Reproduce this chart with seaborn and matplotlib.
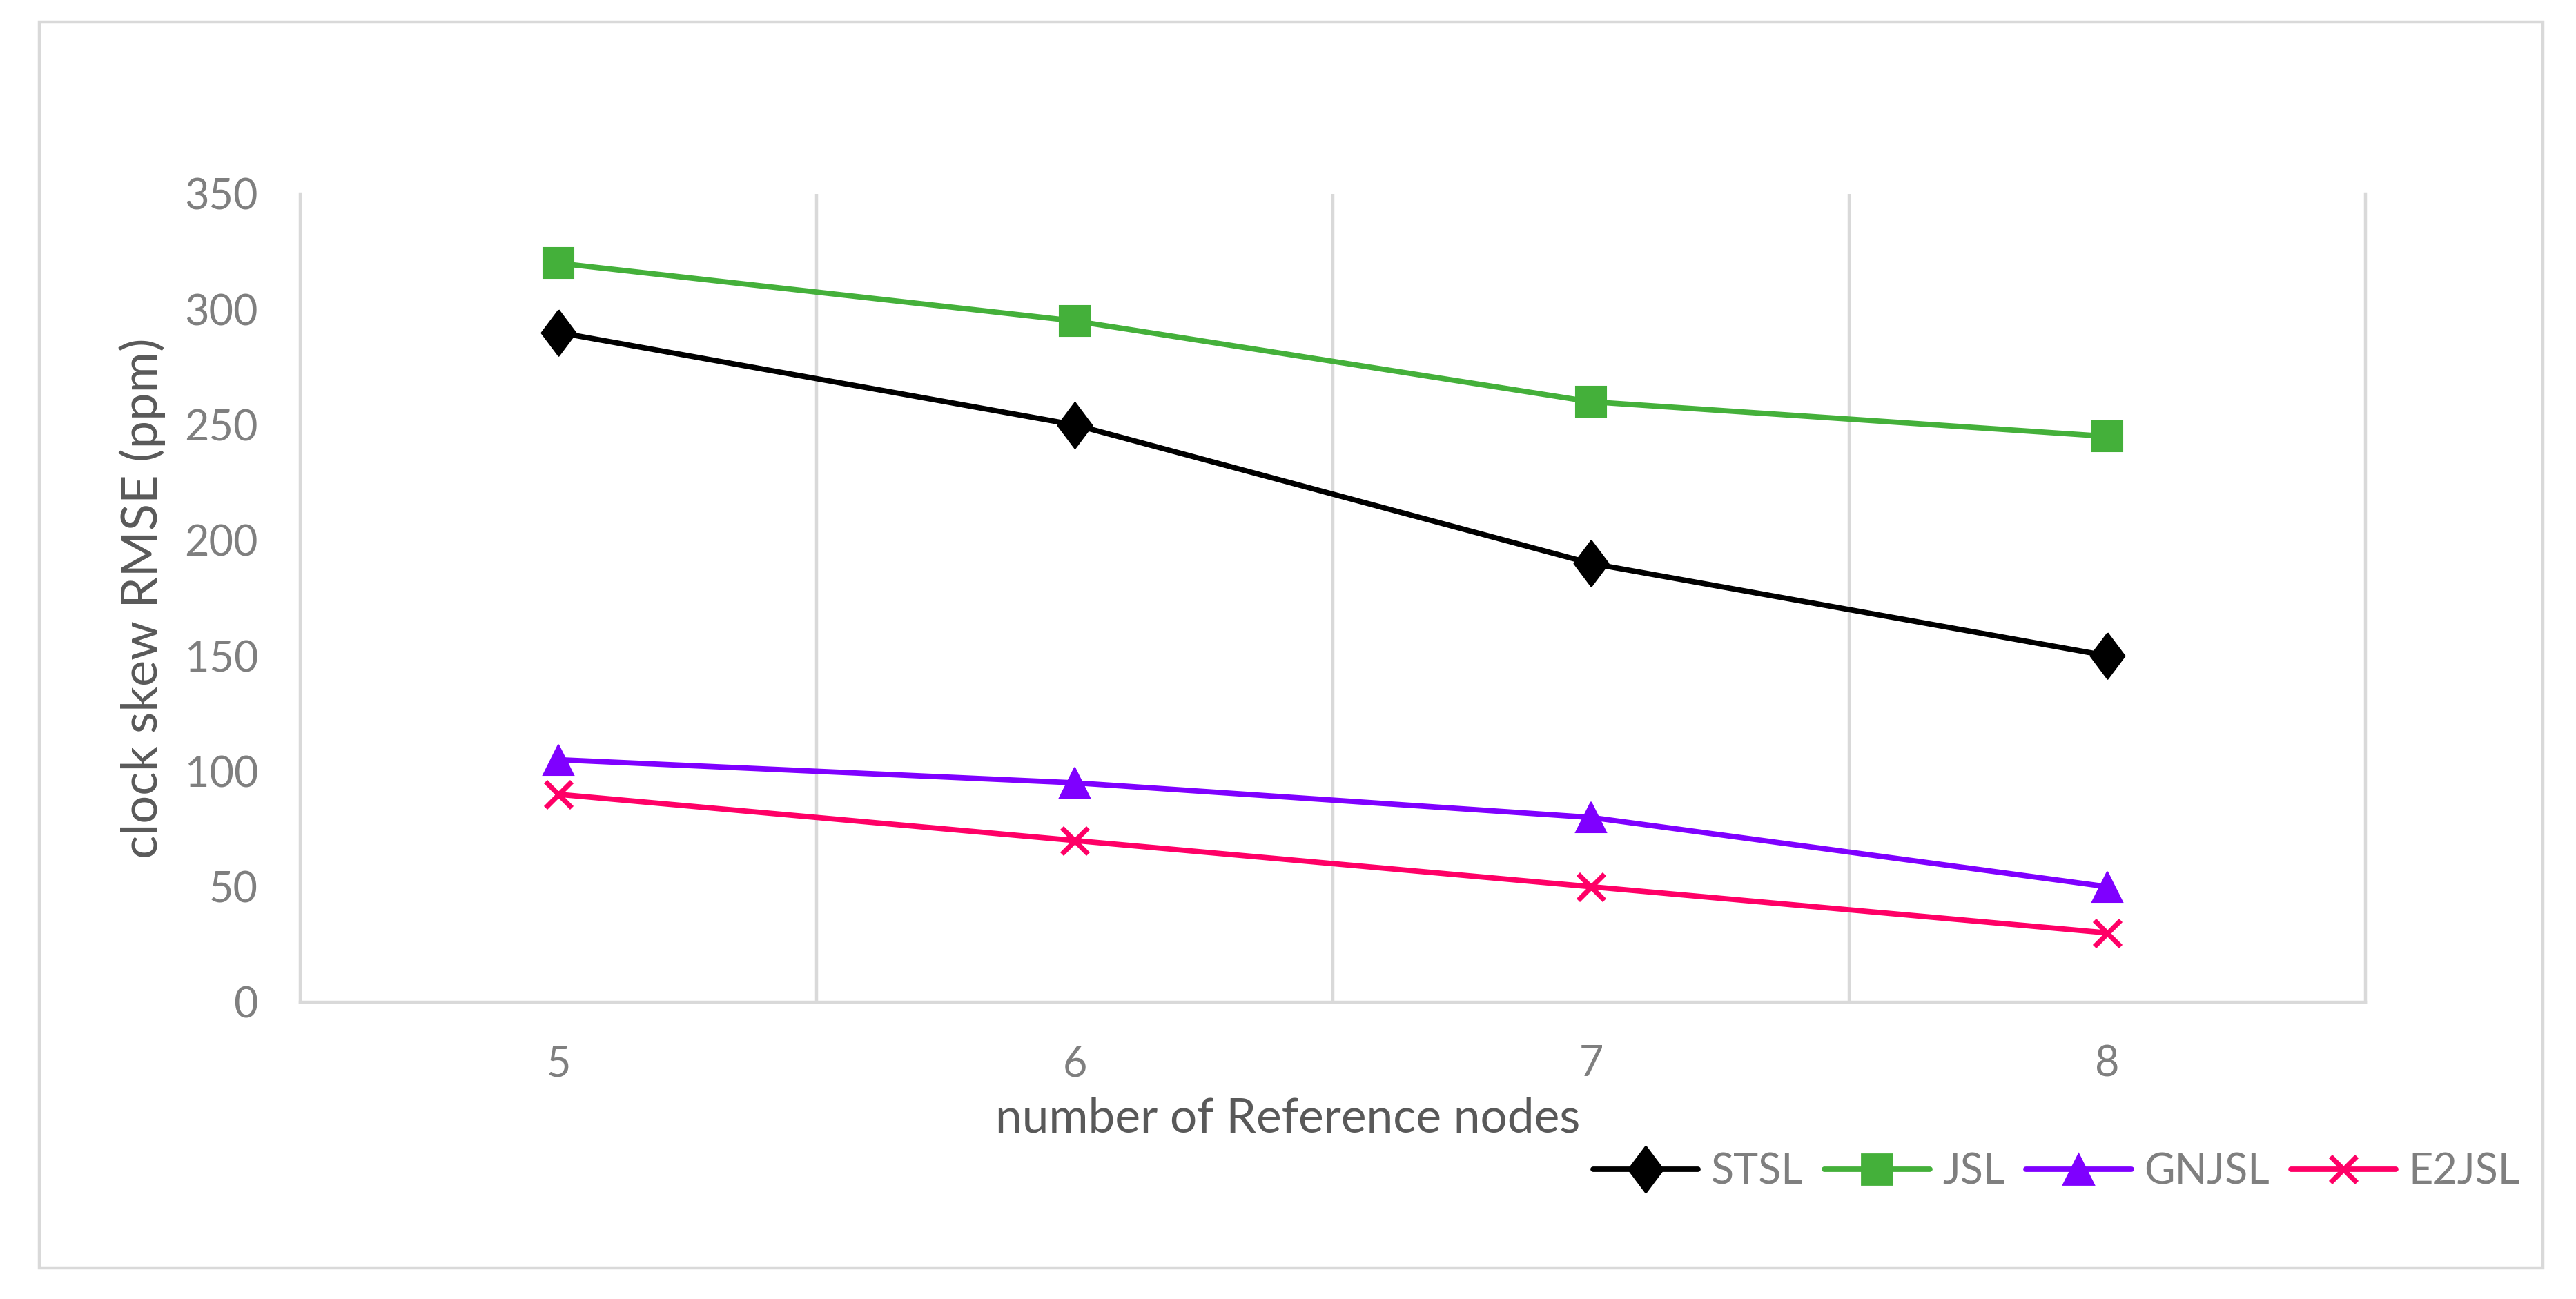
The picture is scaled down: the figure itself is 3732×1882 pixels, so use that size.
import numpy as np
import pandas as pd
import matplotlib
matplotlib.use("Agg")
import matplotlib.pyplot as plt
import seaborn as sns
from matplotlib.patches import Rectangle
from matplotlib.lines import Line2D

nodes = [5, 6, 7, 8]
stsl = [290, 250, 190, 150]
jsl = [320, 295, 260, 245]
gnjsl = [105, 95, 80, 50]
e2jsl = [90, 70, 50, 30]
series_names = ["STSL", "JSL", "GNJSL", "E2JSL"]
y_ticks = [0, 50, 100, 150, 200, 250, 300, 350]

sns.set_theme(style="white")
plt.rcParams['font.family'] = ['Lato', 'DejaVu Sans']

df = pd.DataFrame({
    "nodes": nodes * 4,
    "value": stsl + jsl + gnjsl + e2jsl,
    "series": sum([[n] * len(nodes) for n in series_names], []),
})

diamond = [(0, 1), (0.75, 0), (0, -1), (-0.75, 0), (0, 1)]
colors = {"STSL": "#000000", "JSL": "#44B03A", "GNJSL": "#7F00FF", "E2JSL": "#FF0066"}
markers = {"STSL": diamond, "JSL": "s", "GNJSL": "^", "E2JSL": "x"}
msizes = {"STSL": 24, "JSL": 16, "GNJSL": 16, "E2JSL": 14}

fig = plt.figure(figsize=(18.66, 9.41), dpi=200)
ax = fig.add_axes([0.1166, 0.2285, 0.8017, 0.6222])

for name in series_names:
    sub = df[df["series"] == name]
    kw = dict(marker=markers[name], markersize=msizes[name], color=colors[name],
              linewidth=2.8, label=name, markeredgecolor=colors[name], legend=False)
    if name == "E2JSL":
        kw["markeredgewidth"] = 2.6
    sns.lineplot(data=sub, x="nodes", y="value", ax=ax, **kw)

ax.set_xlim(4.5, 8.5)
ax.set_ylim(0, 350)
ax.set_yticks(y_ticks)
ax.set_xticks(nodes)
ax.set_xticklabels([str(n) for n in nodes])

for xv in [5.5, 6.5, 7.5]:
    ax.axvline(xv, color="#D9D9D9", linewidth=1.6, zorder=0)

ax.spines["top"].set_visible(False)
for side in ["left", "right", "bottom"]:
    ax.spines[side].set_visible(True)
    ax.spines[side].set_color("#D9D9D9")
    ax.spines[side].set_linewidth(1.6)

ax.tick_params(axis="both", length=0, labelsize=22, labelcolor="#7F7F7F")
ax.tick_params(axis="x", pad=22)
ax.tick_params(axis="y", pad=22)
ax.set_xlabel("")
ax.set_ylabel("clock skew RMSE (ppm)", fontsize=26, color="#595959", labelpad=10)
fig.text(0.5, 1 - 1621 / 1882, "number of Reference nodes", fontsize=25,
         color="#595959", ha="center", va="center")

handles = []
for name in series_names:
    h = Line2D([], [], color=colors[name], marker=markers[name], markersize=msizes[name],
               linewidth=2.8, markeredgecolor=colors[name],
               markeredgewidth=2.6 if name == "E2JSL" else 1.0)
    handles.append(h)
leg = fig.legend(handles, series_names, loc="center right", bbox_to_anchor=(0.993, 0.098),
                 ncol=4, frameon=False, fontsize=22, handlelength=2.5,
                 columnspacing=0.5, handletextpad=0.3)
for t in leg.get_texts():
    t.set_color("#7F7F7F")

fig.patches.append(Rectangle((0.0153, 0.024), 0.9719, 0.959, transform=fig.transFigure,
                             fill=False, edgecolor="#D9D9D9", linewidth=1.6))

fig.savefig("out.png", dpi=200, facecolor="white")
